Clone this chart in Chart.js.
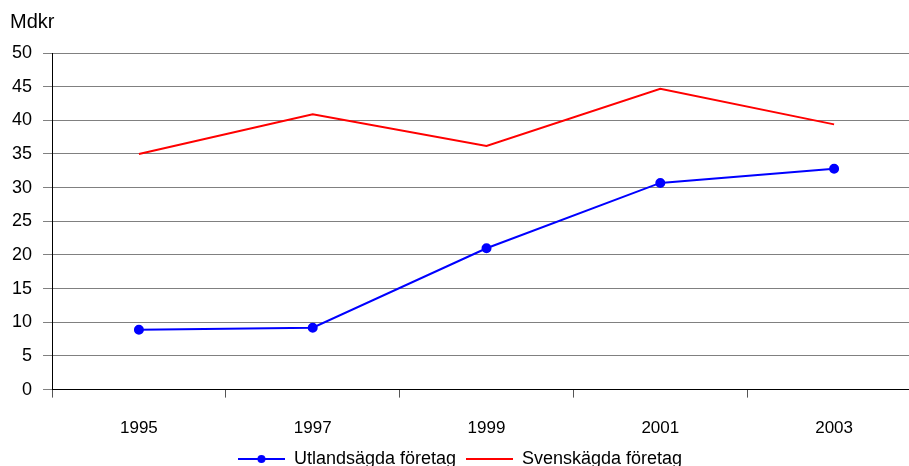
<!DOCTYPE html>
<html>
<head>
<meta charset="utf-8">
<script src="https://cdn.jsdelivr.net/npm/chart.js@4"></script>
<style>
  html, body { margin: 0; padding: 0; background: #fff; overflow: hidden; }
  #wrap { width: 927px; height: 478px; }
</style>
</head>
<body>
<div id="wrap"><canvas id="c" width="927" height="478"></canvas></div>
<script>
// data
const years = ["1995", "1997", "1999", "2001", "2003"];
const utlandsagda = [8.9, 9.2, 21.0, 30.7, 32.8];
const svenskagda = [35.0, 40.9, 36.2, 44.7, 39.4];
const seriesNames = ["Utlandsägda företag", "Svenskägda företag"];
const unitLabel = "Mdkr";

const FONT = "'Liberation Sans', Arial, sans-serif";
Chart.defaults.font.family = FONT;
Chart.defaults.font.size = 17;
Chart.defaults.color = "#000";

// small legend swatches: line with dot / plain line
function swatch(color, withDot) {
    const c = document.createElement("canvas");
    c.width = 47;
    c.height = 10;
    const g = c.getContext("2d");
    g.strokeStyle = color;
    g.lineWidth = 2;
    g.beginPath();
    g.moveTo(0, 5);
    g.lineTo(47, 5);
    g.stroke();
    if (withDot) {
        g.fillStyle = color;
        g.beginPath();
        g.arc(23.5, 5, 4, 0, Math.PI * 2);
        g.fill();
    }
    return c;
}

const unitPlugin = {
    id: "unitLabel",
    afterLayout(chart) {
        // the legend sits a bit left of the canvas centre in the original
        if (chart.legend) {
            chart.legend.left -= 4;
            chart.legend.right -= 4;
        }
    },
    afterDraw(chart) {
        const ctx = chart.ctx;
        ctx.save();
        ctx.font = "20px " + FONT;
        ctx.fillStyle = "#000";
        ctx.textBaseline = "middle";
        ctx.textAlign = "left";
        ctx.fillText(unitLabel, 10, 22);
        ctx.restore();
    }
};

new Chart(document.getElementById("c"), {
    type: "line",
    data: {
        labels: years,
        datasets: [
            {
                label: seriesNames[0],
                data: utlandsagda,
                borderColor: "#0000ff",
                backgroundColor: "#0000ff",
                borderWidth: 2,
                pointStyle: "circle",
                pointRadius: 4,
                pointHoverRadius: 4,
                tension: 0
            },
            {
                label: seriesNames[1],
                data: svenskagda,
                borderColor: "#ff0000",
                backgroundColor: "#ff0000",
                borderWidth: 2,
                pointRadius: 0,
                pointHoverRadius: 0,
                tension: 0
            }
        ]
    },
    options: {
        responsive: false,
        animation: false,
        devicePixelRatio: 1,
        layout: { padding: { left: 1, top: 53, right: 0, bottom: 0 } },
        plugins: {
            tooltip: { enabled: false },
            legend: {
                position: "bottom",
                labels: {
                    usePointStyle: true,
                    pointStyleWidth: 47,
                    padding: 10,
                    font: { size: 18 },
                    generateLabels(chart) {
                        return chart.data.datasets.map((ds, i) => ({
                            text: ds.label,
                            pointStyle: swatch(ds.borderColor, i === 0),
                            fillStyle: ds.borderColor,
                            strokeStyle: ds.borderColor,
                            lineWidth: 0,
                            datasetIndex: i,
                            hidden: false
                        }));
                    }
                }
            }
        },
        scales: {
            x: {
                offset: true,
                grid: {
                    offset: true,
                    drawOnChartArea: false,
                    drawTicks: true,
                    tickLength: 8,
                    color: "#555"
                },
                border: { color: "#000", width: 1 },
                ticks: { padding: 21, font: { size: 17 } },
                afterFit(scale) {
                    scale.height -= 20;
                }
            },
            y: {
                min: 0,
                max: 50,
                ticks: { stepSize: 5, padding: 11, font: { size: 18 } },
                grid: { color: "#808080", tickLength: 9, lineWidth: 1 },
                border: { color: "#000", width: 1 }
            }
        }
    },
    plugins: [unitPlugin]
});
</script>
</body>
</html>
